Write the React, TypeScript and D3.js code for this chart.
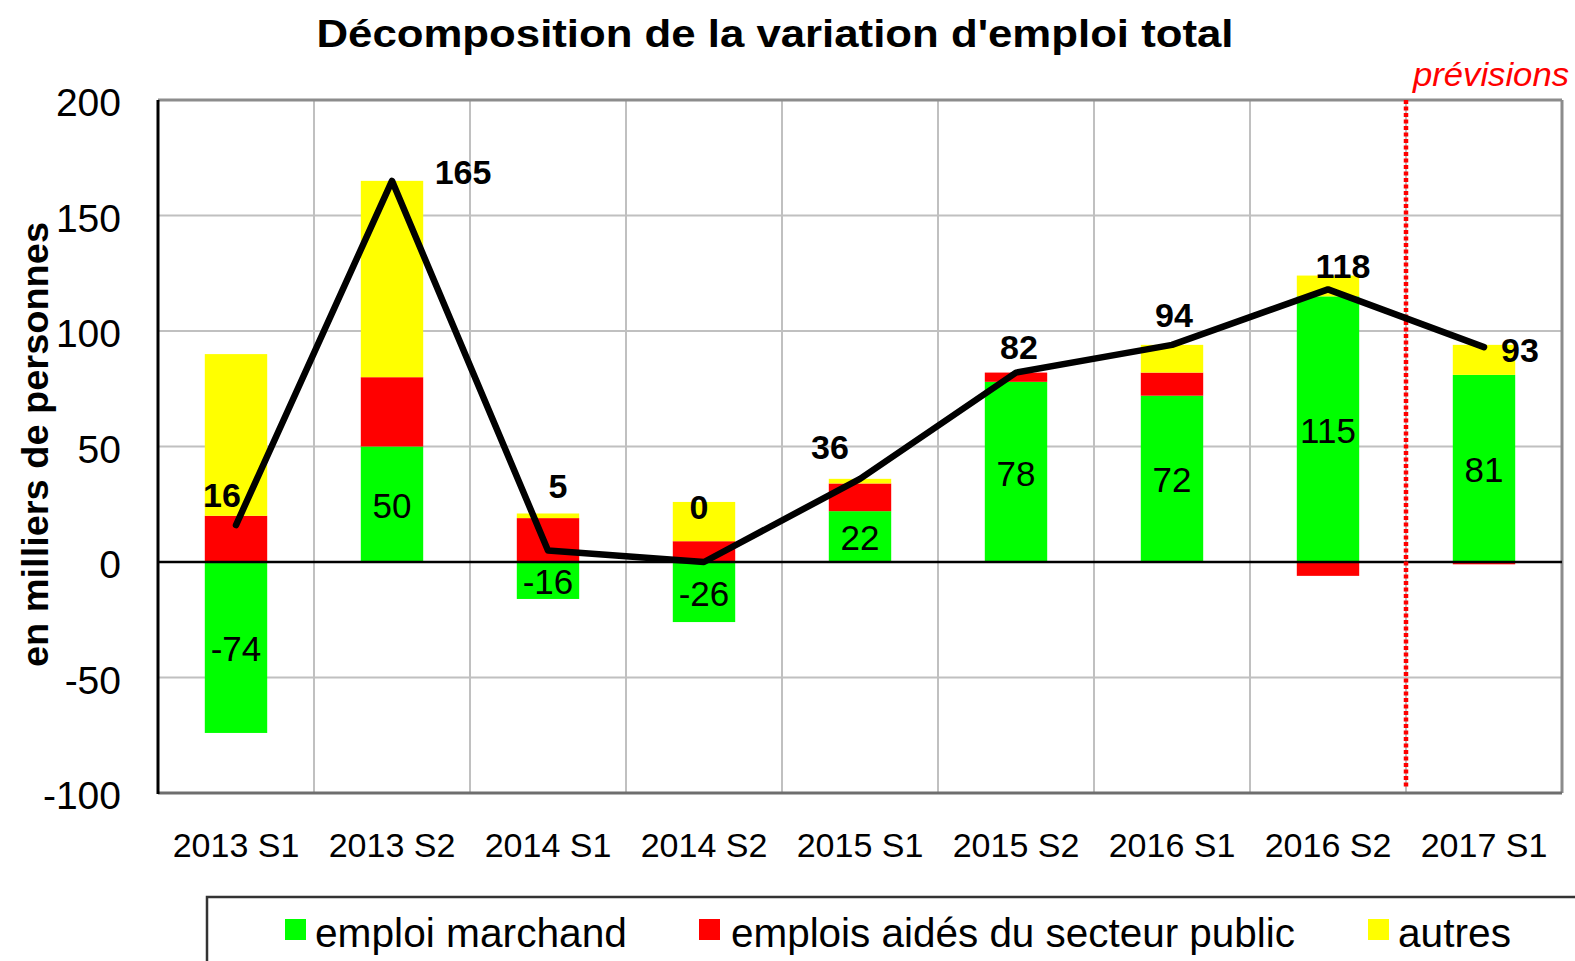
import * as d3 from "d3";

const categories = ["2013 S1", "2013 S2", "2014 S1", "2014 S2", "2015 S1", "2015 S2", "2016 S1", "2016 S2", "2017 S1"];
const emploiMarchand = [-74, 50, -16, -26, 22, 78, 72, 115, 81];
const emploisAides = [20, 30, 19, 9, 12, 4, 10, -6, -1];
const autres = [70, 85, 2, 17, 2, 0, 12, 9, 13];
const total = [16, 165, 5, 0, 36, 82, 94, 118, 93];
const yTicks = [-100, -50, 0, 50, 100, 150, 200];
const seriesNames = ["emploi marchand", "emplois aidés du secteur public", "autres"];
const seriesColors = ["#00ff00", "#ff0000", "#ffff00"];

// manual placement of the total labels (px offsets from the line point)
const totalLabelOffsets: [number, number][] = [
  [-14, -31], [71, -10], [10, -66], [-5, -56], [-30, -33], [3, -27], [2, -31], [15, -25], [36, 2],
];

const W = 1575;
const H = 961;
const plot = { left: 158, right: 1562, top: 100, bottom: 793 };
const font = "'Liberation Sans', Arial, sans-serif";

export default function App() {
  const x = d3
    .scaleBand<string>()
    .domain(categories)
    .range([plot.left, plot.right])
    .paddingInner(0.6)
    .paddingOuter(0.3);
  const y = d3.scaleLinear().domain([-100, 200]).range([plot.bottom, plot.top]);

  const rows = categories.map((c, i) => ({
    cat: c,
    m: emploiMarchand[i],
    a: emploisAides[i],
    o: autres[i],
  }));
  const stacked = d3
    .stack<(typeof rows)[0]>()
    .keys(["m", "a", "o"])
    .offset(d3.stackOffsetDiverging)(rows as any);

  const step = x.step();
  const cx = (c: string) => (x(c) ?? 0) + x.bandwidth() / 2;
  const boundaries = d3.range(1, categories.length).map((k) => plot.left + k * step);
  const forecastX = plot.left + 8 * step;

  const line = d3
    .line<number>()
    .x((_, i) => cx(categories[i]))
    .y((d) => y(d));

  return (
    <svg width={W} height={H} style={{ position: "absolute", left: 0, top: 0, background: "#fff" }} fontFamily={font}>
      {/* title */}
      <text x={775} y={47} textAnchor="middle" fontSize={39} fontWeight="bold" textLength={917} lengthAdjust="spacingAndGlyphs">
        Décomposition de la variation d'emploi total
      </text>

      {/* grid */}
      {yTicks.map((t) => (
        <line key={t} x1={plot.left} x2={plot.right} y1={y(t)} y2={y(t)} stroke="#c0c0c0" strokeWidth={2} />
      ))}
      {boundaries.map((b, i) => (
        <line key={i} x1={b} x2={b} y1={plot.top} y2={plot.bottom} stroke="#c0c0c0" strokeWidth={2} />
      ))}

      {/* bars */}
      {stacked.map((s, si) => (
        <g key={si} fill={seriesColors[si]}>
          {s.map((d, i) => {
            const y0 = y(Math.max(d[0], d[1]));
            const y1 = y(Math.min(d[0], d[1]));
            return <rect key={i} x={x(categories[i])} width={x.bandwidth()} y={y0} height={y1 - y0} />;
          })}
        </g>
      ))}

      {/* labels inside green segment */}
      {emploiMarchand.map((v, i) => (
        <text key={i} x={cx(categories[i])} y={y(v / 2) + 1} dy="0.36em" textAnchor="middle" fontSize={35}>
          {v}
        </text>
      ))}

      {/* frame */}
      <line x1={plot.left} x2={plot.right} y1={plot.top} y2={plot.top} stroke="#8c8c8c" strokeWidth={3} />
      <line x1={plot.right} x2={plot.right} y1={plot.top} y2={plot.bottom} stroke="#8c8c8c" strokeWidth={3} />
      <line x1={plot.left} x2={plot.right} y1={plot.bottom} y2={plot.bottom} stroke="#6e6e6e" strokeWidth={3} />
      <line x1={plot.left} x2={plot.left} y1={plot.top} y2={plot.bottom + 1} stroke="#000" strokeWidth={3} />
      <line x1={plot.left} x2={plot.right} y1={y(0)} y2={y(0)} stroke="#000" strokeWidth={2.5} />

      {/* forecast marker */}
      <line x1={forecastX} x2={forecastX} y1={plot.top} y2={plot.bottom - 4} stroke="#ff0000" strokeWidth={4.5} strokeDasharray="4,2.5" />
      <text x={1491} y={86} textAnchor="middle" fontSize={33} fontStyle="italic" fill="#ff0000" textLength={156} lengthAdjust="spacingAndGlyphs">
        prévisions
      </text>

      {/* total line */}
      <path d={line(total) ?? ""} fill="none" stroke="#000" strokeWidth={6.5} strokeLinejoin="round" strokeLinecap="round" />
      {total.map((v, i) => (
        <text
          key={i}
          x={cx(categories[i]) + totalLabelOffsets[i][0]}
          y={y(v) + totalLabelOffsets[i][1] + 1}
          dy="0.36em"
          textAnchor="middle"
          fontSize={34}
          fontWeight="bold"
        >
          {v}
        </text>
      ))}

      {/* y axis */}
      {yTicks.map((t) => (
        <text key={t} x={121} y={y(t) + 2} dy="0.36em" textAnchor="end" fontSize={39}>
          {t}
        </text>
      ))}
      <text
        transform={`translate(35,${(plot.top + plot.bottom) / 2 - 2}) rotate(-90)`}
        dy="0.36em"
        textAnchor="middle"
        fontSize={37}
        fontWeight="bold"
        textLength={445}
        lengthAdjust="spacingAndGlyphs"
      >
        en milliers de personnes
      </text>

      {/* x axis */}
      {categories.map((c) => (
        <text key={c} x={cx(c)} y={845} dy="0.36em" textAnchor="middle" fontSize={34}>
          {c}
        </text>
      ))}

      {/* legend */}
      <rect x={207} y={897} width={1400} height={100} fill="none" stroke="#333" strokeWidth={2.5} />
      {[
        { sx: 285, tx: 315, w: 312 },
        { sx: 699, tx: 731, w: 564 },
        { sx: 1368, tx: 1398, w: 113 },
      ].map((l, i) => (
        <g key={i}>
          <rect x={l.sx} y={919} width={21} height={21} fill={seriesColors[i]} />
          <text x={l.tx} y={932} dy="0.36em" fontSize={41} textLength={l.w} lengthAdjust="spacingAndGlyphs">
            {seriesNames[i]}
          </text>
        </g>
      ))}
    </svg>
  );
}
